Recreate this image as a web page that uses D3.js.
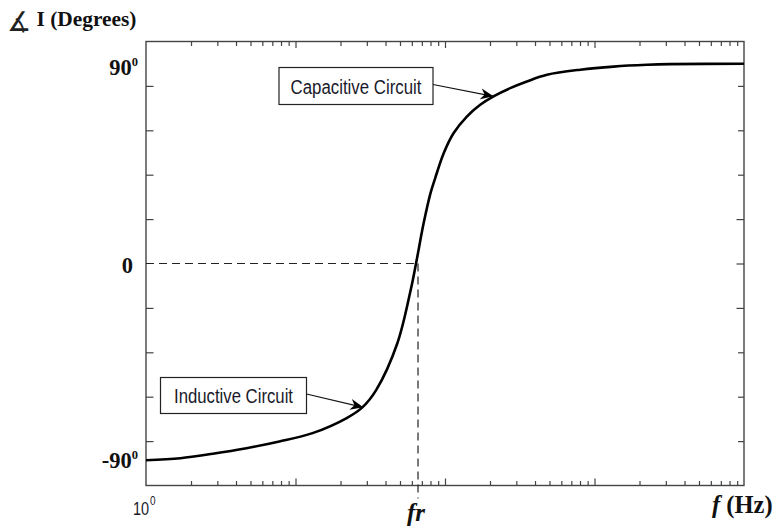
<!DOCTYPE html>
<html><head><meta charset="utf-8">
<script src="https://cdn.jsdelivr.net/npm/d3@7"></script>
<style>
html,body{margin:0;padding:0;background:#fff;}
svg{display:block;}
.serif{font-family:"Liberation Serif","Times New Roman",serif;font-weight:bold;fill:#111;}
.sans{font-family:"Liberation Sans",Arial,sans-serif;fill:#1a1a2a;}
</style>
</head><body>
<svg id="chart" width="778" height="531"></svg>
<script>
// ---- data ----
const freqHz   = [1, 1.7, 2.8, 4.7, 7.8, 13, 22, 28, 34.7, 48, 59, 64, 72, 80, 86, 98, 114, 140, 172, 211, 273, 353, 481, 804, 1343, 2244, 3214, 10000];
const phaseDeg = [-88.6, -87.7, -85.7, -83.2, -80.2, -76.4, -69.6, -64.8, -56.9, -35.9, -11.8, 0, 18.2, 31.7, 38.5, 49.7, 58.7, 66.2, 71.5, 75.3, 79.0, 82.0, 85.0, 87.3, 88.7, 89.5, 89.8, 90];
const resonantHz = 66;
const yTickValues = [-80, -60, -40, -20, 0, 20, 40, 60, 80];
const yLabelValues = [90, 0, -90];
const yLabelTexts = ["90", "0", "-90"];
const annotationTexts = ["Capacitive Circuit", "Inductive Circuit"];
const annotationTargetsHz = [211, 28.4];
const annotationTargetsDeg = [75.3, -64.8];

// ---- layout ----
const svg = d3.select("#chart");
const L = 146, R = 744, T = 41.5, B = 485.5;
const x = d3.scaleLog().domain([1, 10000]).range([L, R]);
const y = d3.scaleLinear().domain([-100, 100]).range([B, T]);
const isDecade = v => Math.abs(Math.log10(v) - Math.round(Math.log10(v))) < 1e-9;

const defs = svg.append("defs");
defs.append("marker").attr("id","arrow").attr("viewBox","0 0 14 12")
  .attr("refX",13).attr("refY",6).attr("markerWidth",14).attr("markerHeight",12)
  .attr("markerUnits","userSpaceOnUse").attr("orient","auto")
  .append("path").attr("d","M0,0.5 L13,6 L0,11.5 L4,6 Z").attr("fill","#000");

const axisColor = "#444";
const xTicks = x.ticks().filter(v => v > 1 && v < 10000);
const gB = svg.append("g").attr("transform",`translate(0,${B})`)
  .call(d3.axisBottom(x).tickValues(xTicks).tickFormat("").tickSizeOuter(0));
gB.select(".domain").remove();
gB.selectAll(".tick line").attr("y2", d => isDecade(d) ? -7 : -4.5).attr("stroke",axisColor).attr("stroke-width",1.2);
const gT = svg.append("g").attr("transform",`translate(0,${T})`)
  .call(d3.axisTop(x).tickValues(xTicks).tickFormat("").tickSizeOuter(0));
gT.select(".domain").remove();
gT.selectAll(".tick line").attr("y2", d => isDecade(d) ? 6.5 : 4.5).attr("stroke",axisColor).attr("stroke-width",1.2);
const gL = svg.append("g").attr("transform",`translate(${L},0)`)
  .call(d3.axisLeft(y).tickValues(yTickValues.filter(v=>v!==0)).tickFormat("").tickSizeOuter(0));
gL.select(".domain").remove();
gL.selectAll(".tick line").attr("x2", 7.5).attr("stroke",axisColor).attr("stroke-width",1.2);
const gR = svg.append("g").attr("transform",`translate(${R},0)`)
  .call(d3.axisRight(y).tickValues(yTickValues).tickFormat("").tickSizeOuter(0));
gR.select(".domain").remove();
gR.selectAll(".tick line").attr("x2", d => Math.abs(d) <= 20 ? -7.5 : -6).attr("stroke",axisColor).attr("stroke-width",1.2);

svg.append("rect").attr("x",L).attr("y",T).attr("width",R-L).attr("height",B-T)
  .attr("fill","none").attr("stroke",axisColor).attr("stroke-width",1.4);

svg.append("line").attr("x1",L).attr("x2",x(resonantHz)).attr("y1",y(0)).attr("y2",y(0))
  .attr("stroke","#222").attr("stroke-width",1.2).attr("stroke-dasharray","8,5");
svg.append("line").attr("x1",x(resonantHz)).attr("x2",x(resonantHz)).attr("y1",y(0)).attr("y2",B+13)
  .attr("stroke","#222").attr("stroke-width",1.2).attr("stroke-dasharray","8,5");

const pts = freqHz.map((f,i)=>[f, phaseDeg[i]]);
svg.append("path").datum(pts)
  .attr("d", d3.line().x(d=>x(d[0])).y(d=>y(d[1])).curve(d3.curveCatmullRom.alpha(0.5)))
  .attr("fill","none").attr("stroke","#000").attr("stroke-width",2.6);

const boxes = [
  {x0:279, y0:67.5, w:154, h:37, tw:131},
  {x0:160.5, y0:377.5, w:146, h:36, tw:119}
];
annotationTexts.forEach((t,i)=>{
  const b = boxes[i];
  svg.append("rect").attr("x",b.x0).attr("y",b.y0).attr("width",b.w).attr("height",b.h)
    .attr("fill","#fff").attr("stroke","#222").attr("stroke-width",1.2);
  svg.append("text").attr("class","sans").attr("x",b.x0+b.w/2 - b.tw/2).attr("y",b.y0+b.h/2+7.5)
    .attr("font-size",20).attr("textLength",b.tw).attr("lengthAdjust","spacingAndGlyphs").text(t);
  const tx = x(annotationTargetsHz[i]), ty = y(annotationTargetsDeg[i]);
  svg.append("line").attr("x1",b.x0+b.w).attr("y1",b.y0+b.h/2-1.5).attr("x2",tx).attr("y2",ty)
    .attr("stroke","#111").attr("stroke-width",1.2).attr("marker-end","url(#arrow)");
});

yLabelValues.forEach((v,i)=>{
  const t = svg.append("text").attr("class","serif").attr("font-size",22.5)
    .attr("text-anchor","end").attr("x", v===0 ? 133 : 138).attr("y", v===90 ? 75 : (v===0 ? 272.5 : 468));
  t.append("tspan").text(yLabelTexts[i]);
  if (v !== 0) t.append("tspan").attr("font-size",12.5).attr("dy",-9).text("0");
});

svg.append("text").attr("x",7).attr("y",31).attr("font-family","DejaVu Sans").attr("font-size",27).attr("fill","#222").text("∡");
svg.append("text").attr("class","serif").attr("x",36.5).attr("y",26).attr("font-size",20)
  .attr("textLength",100).attr("lengthAdjust","spacingAndGlyphs").text("I (Degrees)");

const x10 = svg.append("text").attr("class","sans").attr("font-size",14.5)
  .attr("transform","translate(133,515) scale(1,1.25)");
x10.append("tspan").text("10");
x10.append("tspan").attr("font-size",10).attr("dx",1).attr("dy",-8).text("0");
svg.append("text").attr("class","serif").attr("font-style","italic").attr("font-size",25)
  .attr("text-anchor","middle").attr("x",x(resonantHz)-2).attr("y",521).text("fr");
const fx = svg.append("text").attr("class","serif").attr("font-size",24.5).attr("x",712).attr("y",513);
fx.append("tspan").attr("font-style","italic").text("f");
fx.append("tspan").text(" (Hz)");
</script>
</body></html>
